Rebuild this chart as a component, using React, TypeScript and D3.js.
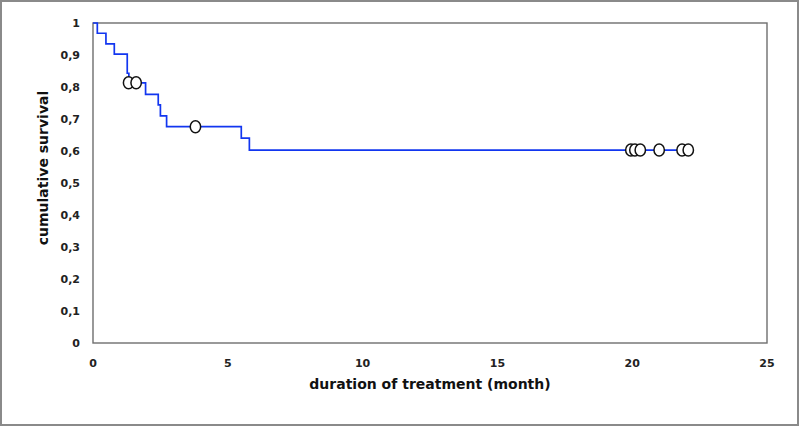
import React, { useRef, useEffect } from 'react';
import * as d3 from 'd3';

// Kaplan-Meier steps: time (month) where survival drops, and survival after drop
const stepTimes = [0, 0.16, 0.48, 0.79, 1.27, 1.33, 1.95, 2.42, 2.5, 2.73, 5.5, 5.8, 22.1];
const stepSurvival = [1, 0.968, 0.935, 0.903, 0.843, 0.813, 0.777, 0.744, 0.71, 0.676, 0.64, 0.603, 0.603];

// censored observations
const censorTimes = [1.32, 1.6, 3.8, 19.95, 20.1, 20.3, 21.0, 21.85, 22.08];
const censorSurvival = [0.813, 0.813, 0.676, 0.603, 0.603, 0.603, 0.603, 0.603, 0.603];

const xTicks = [0, 5, 10, 15, 20, 25];
const yTicks = [0, 0.1, 0.2, 0.3, 0.4, 0.5, 0.6, 0.7, 0.8, 0.9, 1];

const W = 800;
const H = 427;
const margin = { left: 93, top: 23, right: 33, bottom: 84 };

function App() {
  const svgRef = useRef<SVGSVGElement>(null);

  useEffect(() => {
    const svg = d3.select(svgRef.current);
    svg.selectAll('*').remove();

    const x = d3.scaleLinear().domain([0, 25]).range([margin.left, W - margin.right]);
    const y = d3.scaleLinear().domain([0, 1]).range([H - margin.bottom, margin.top]);
    const font = "'DejaVu Sans', sans-serif";

    // outer frame
    svg.append('rect')
      .attr('x', 1).attr('y', 1)
      .attr('width', W - 3).attr('height', H - 3)
      .attr('fill', '#fff')
      .attr('stroke', '#8a8a8a')
      .attr('stroke-width', 2);

    // plot box
    svg.append('rect')
      .attr('x', x(0)).attr('y', y(1))
      .attr('width', x(25) - x(0)).attr('height', y(0) - y(1))
      .attr('fill', 'none')
      .attr('stroke', '#6e6e6e')
      .attr('stroke-width', 1.4);

    // y tick labels
    svg.selectAll('.ylab')
      .data(yTicks)
      .join('text')
      .attr('class', 'ylab')
      .attr('x', 80)
      .attr('y', d => y(d) + 4)
      .attr('text-anchor', 'end')
      .style('font-family', font)
      .style('font-weight', 'bold')
      .style('font-size', '11px')
      .attr('fill', '#222')
      .text(d => String(d3.format('.1~f')(d)).replace('.', ','));

    // x tick labels
    svg.selectAll('.xlab')
      .data(xTicks)
      .join('text')
      .attr('class', 'xlab')
      .attr('x', d => x(d))
      .attr('y', 367)
      .attr('text-anchor', 'middle')
      .style('font-family', font)
      .style('font-weight', 'bold')
      .style('font-size', '11px')
      .attr('fill', '#222')
      .text(d => d);

    // axis titles
    svg.append('text')
      .attr('x', (x(0) + x(25)) / 2)
      .attr('y', 389)
      .attr('text-anchor', 'middle')
      .style('font-family', font)
      .style('font-weight', 'bold')
      .style('font-size', '14px')
      .attr('fill', '#111')
      .text('duration of treatment (month)');

    svg.append('text')
      .attr('transform', `translate(48,${168}) rotate(-90)`)
      .attr('text-anchor', 'middle')
      .style('font-family', font)
      .style('font-weight', 'bold')
      .style('font-size', '14px')
      .attr('fill', '#111')
      .text('cumulative survival');

    // survival curve
    const pts: [number, number][] = stepTimes.map((t, i) => [t, stepSurvival[i]]);
    const line = d3.line<[number, number]>()
      .x(d => x(d[0]))
      .y(d => y(d[1]))
      .curve(d3.curveStepAfter);

    svg.append('path')
      .datum(pts)
      .attr('d', line)
      .attr('fill', 'none')
      .attr('stroke', '#1236f0')
      .attr('stroke-width', 1.7);

    // censor marks
    svg.selectAll('.censor')
      .data(censorTimes.map((t, i) => [t, censorSurvival[i]]))
      .join('ellipse')
      .attr('class', 'censor')
      .attr('cx', d => x(d[0]))
      .attr('cy', d => y(d[1]))
      .attr('rx', 5.2)
      .attr('ry', 6)
      .attr('fill', '#fff')
      .attr('stroke', '#111')
      .attr('stroke-width', 1.5);
  }, []);

  return (
    <svg
      ref={svgRef}
      width={W}
      height={H}
      style={{ position: 'absolute', left: 0, top: 0 }}
    />
  );
}

export default App;
